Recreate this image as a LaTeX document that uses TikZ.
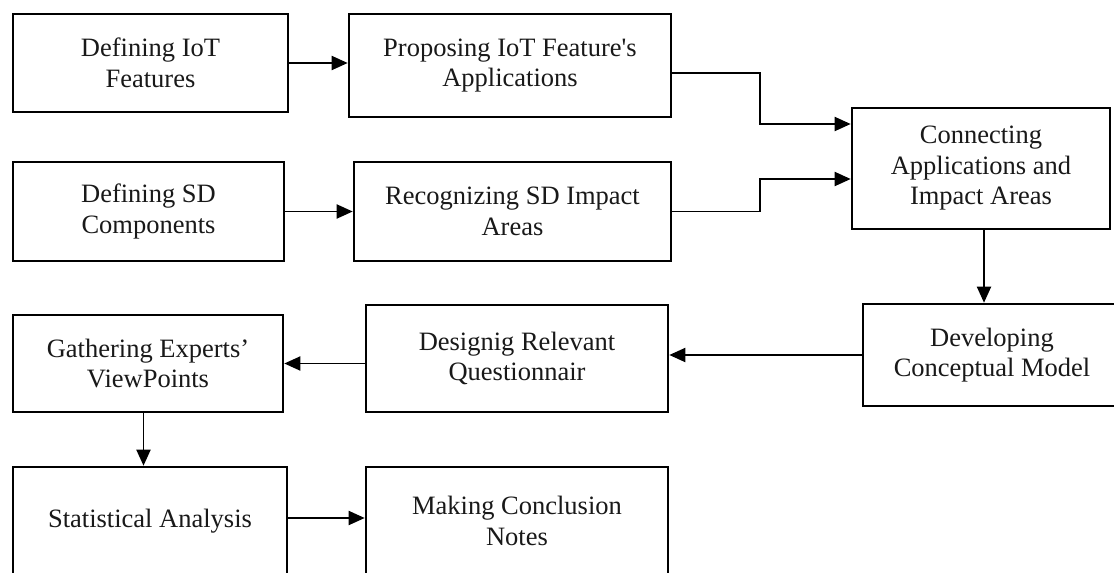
\documentclass[tikz,border=0pt]{standalone}
\usepackage{fontspec}
\setmainfont{Liberation Serif}
\usetikzlibrary{arrows.meta,calc}
\begin{document}
\begin{tikzpicture}[x=1pt,y=-1pt,
  stepbox/.style={draw=black, line width=2.6pt, inner sep=0pt, align=center,
    font=\fontsize{26.5pt}{30.5pt}\selectfont, text=black!90},
  arr/.style={draw=black, line width=1.9pt, -{Triangle[length=16pt,width=14pt]}}]
\fill[white] (0,0) rectangle (1114,573);
\useasboundingbox (0,0) rectangle (1114,573);

\node[stepbox, minimum width=275pt, minimum height=98pt]  (B1)  at (150.5,63)  {Defining IoT\\Features};
\node[stepbox, minimum width=322pt, minimum height=103pt] (B2)  at (510,65.5)   {Proposing IoT Feature\textquotesingle s\\Applications};
\node[stepbox, minimum width=258pt, minimum height=121pt] (B3)  at (981,168.5)  {Connecting\\Applications and\\Impact Areas};
\node[stepbox, minimum width=271pt, minimum height=99pt]  (B4)  at (148.5,211.5) {Defining SD\\Components};
\node[stepbox, minimum width=317pt, minimum height=99pt]  (B5)  at (512.5,211.5) {Recognizing SD Impact\\Areas};
\node[stepbox, minimum width=258pt, minimum height=102pt] (B6)  at (992,355)    {Developing\\Conceptual Model};
\node[stepbox, minimum width=302pt, minimum height=107pt] (B7)  at (517,358.5)  {Designig Relevant\\Questionnair};
\node[stepbox, minimum width=270pt, minimum height=97pt]  (B8)  at (148,363.5)  {Gathering Experts’\\ViewPoints};
\node[stepbox, minimum width=274pt, minimum height=108pt] (B9)  at (150,521)    {Statistical Analysis};
\node[stepbox, minimum width=302pt, minimum height=108pt] (B10) at (517,521)    {Making Conclusion\\Notes};

\draw[arr] (B1.east) -- (B1.east -| B2.west);
\draw[arr] (B4.east) -- (B4.east -| B5.west);
\draw[arr] ([yshift=-7.5pt]B2.east) -| ([xshift=-91pt,yshift=44.5pt]B3.west) -- ([yshift=44.5pt]B3.west);
\draw[arr] (B5.east) -| ([xshift=-91pt,yshift=-10.5pt]B3.west) -- ([yshift=-10.5pt]B3.west);
\draw[arr] ([xshift=3pt]B3.south) -- ([xshift=3pt]B3.south |- B6.north);
\draw[arr] (B6.west) -- (B6.west -| B7.east);
\draw[arr] (B8.east -| B7.west) -- (B8.east);
\draw[arr] ([xshift=-4.5pt]B8.south) -- ([xshift=-4.5pt]B8.south |- B9.north);
\draw[arr] ([yshift=3pt]B9.east) -- ([yshift=3pt]B9.east -| B10.west);
\end{tikzpicture}
\end{document}
